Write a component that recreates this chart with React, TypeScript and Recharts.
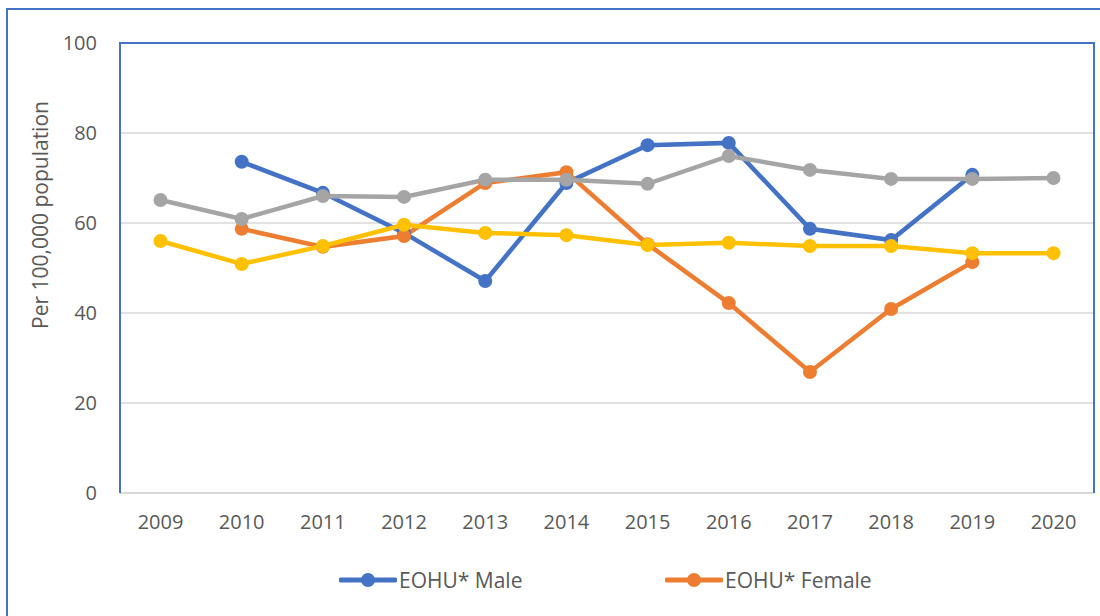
import { LineChart, Line, XAxis, YAxis, CartesianGrid, Label } from "recharts";

const years = ["2009", "2010", "2011", "2012", "2013", "2014", "2015", "2016", "2017", "2018", "2019", "2020"];
const eohuMale = [null, 73.6, 66.7, 57.8, 47.1, 68.9, 77.3, 77.8, 58.7, 56.2, 70.7, null];
const eohuFemale = [null, 58.7, 54.7, 57.1, 68.9, 71.3, 55.3, 42.2, 26.9, 40.9, 51.3, null];
const ontarioMale = [65.1, 60.9, 66.0, 65.8, 69.6, 69.6, 68.7, 74.9, 71.8, 69.8, 69.8, 70.0];
const ontarioFemale = [56.0, 50.9, 54.9, 59.6, 57.8, 57.3, 55.1, 55.6, 54.9, 54.9, 53.3, 53.3];
const yTicks = [0, 20, 40, 60, 80, 100];

const series = [
  { key: "eohuMale", name: "EOHU* Male", color: "#4472C4", legend: true },
  { key: "eohuFemale", name: "EOHU* Female", color: "#ED7D31", legend: true },
  { key: "ontarioMale", name: "Ontario Male", color: "#A5A5A5", legend: false },
  { key: "ontarioFemale", name: "Ontario Female", color: "#FFC000", legend: false },
];

const data = years.map((y, i) => ({
  year: y,
  eohuMale: eohuMale[i],
  eohuFemale: eohuFemale[i],
  ontarioMale: ontarioMale[i],
  ontarioFemale: ontarioFemale[i],
}));

const font = "'Open Sans', 'Liberation Sans', sans-serif";
const textColor = "#595959";
const blue = "#4472C4";

function YTitle(props: any) {
  const vb = props.viewBox || { x: 20, y: 43, width: 100, height: 450 };
  const cx = vb.x + 20;
  const cy = vb.y + vb.height / 2 - 53;
  return (
    <text x={cx} y={cy} transform={`rotate(-90, ${cx}, ${cy})`} textAnchor="middle" dominantBaseline="central"
      fill={textColor} fontSize={21} fontFamily={font}>
      Per 100,000 population
    </text>
  );
}

export default function App() {
  return (
    <div style={{ position: "absolute", left: 0, top: 0, width: 1100, height: 616, overflow: "hidden", background: "#fff", fontFamily: font }}>
      <div style={{ position: "absolute", left: 6, top: 8, width: 1110, height: 630, border: `2px solid ${blue}`, boxSizing: "border-box" }} />
      <LineChart width={1100} height={616} data={data} margin={{ top: 43, right: 6, left: 20, bottom: 83 }} style={{ position: "absolute", left: 0, top: 0 }}>
        <CartesianGrid vertical={false} stroke="#D9D9D9" strokeWidth={1.5} />
        <XAxis dataKey="year" padding={{ left: 40.5, right: 40.5 }} axisLine={{ stroke: "#D9D9D9", strokeWidth: 2 }} tickLine={false} tickSize={0} tickMargin={22} height={40}
          tick={{ fill: textColor, fontSize: 20, fontFamily: font }} />
        <YAxis domain={[0, 100]} ticks={yTicks} width={100} axisLine={false} tickLine={false} tickSize={0} tickMargin={23}
          tick={{ fill: textColor, fontSize: 20, fontFamily: font }}>
          <Label content={<YTitle />} position="insideLeft" />
        </YAxis>
        {series.map((s) => (
          <Line key={s.key} type="linear" dataKey={s.key} name={s.name} stroke={s.color} strokeWidth={4.5}
            dot={{ r: 7, fill: s.color, stroke: s.color, strokeWidth: 0 }} activeDot={false}
            isAnimationActive={false} connectNulls={false} />
        ))}
      </LineChart>
      <div style={{ position: "absolute", left: 119, top: 42, width: 976, height: 451, borderTop: `2px solid ${blue}`, borderLeft: `2px solid ${blue}`, borderRight: `2px solid ${blue}`, boxSizing: "border-box", pointerEvents: "none" }} />
      <div style={{ position: "absolute", left: 339, top: 566, display: "flex", alignItems: "center", fontSize: 21, color: textColor }}>
        {series.filter((s) => s.legend).map((s) => (
          <div key={s.key} style={{ display: "flex", alignItems: "center", width: 326 }}>
            <svg width={58} height={16} style={{ marginRight: 2 }}>
              <line x1={2} y1={8} x2={56} y2={8} stroke={s.color} strokeWidth={5} strokeLinecap="round" />
              <circle cx={29} cy={8} r={7} fill={s.color} />
            </svg>
            <span>{s.name}</span>
          </div>
        ))}
      </div>
    </div>
  );
}
